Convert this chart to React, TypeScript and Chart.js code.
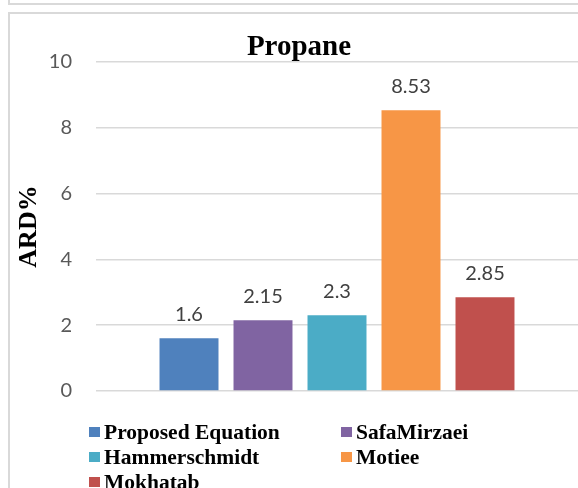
import React, { useEffect, useRef } from "react";
import { Chart, registerables } from "chart.js";

Chart.register(...registerables);

const chartTitle = "Propane";
const yAxisTitle = "ARD%";
const categories = [""];
const seriesNames = ["Proposed Equation", "SafaMirzaei", "Hammerschmidt", "Motiee", "Mokhatab"];
const seriesValues = [1.6, 2.15, 2.3, 8.53, 2.85];
const seriesColors = ["#4F81BD", "#8064A2", "#4BACC6", "#F79646", "#C0504D"];
const yMin = 0;
const yMax = 10;
const yStep = 2;

const SERIF = "'Liberation Serif', 'Times New Roman', serif";
const SANS = "Lato, 'Open Sans', sans-serif";

const framePlugin = {
  id: "frame",
  beforeDraw(chart: any) {
    const ctx = chart.ctx;
    ctx.save();
    ctx.fillStyle = "#FFFFFF";
    ctx.fillRect(0, 0, chart.width, chart.height);
    ctx.strokeStyle = "#D9D9D9";
    ctx.lineWidth = 2;
    ctx.beginPath();
    ctx.moveTo(9, 0);
    ctx.lineTo(9, 4);
    ctx.lineTo(chart.width, 4);
    ctx.moveTo(9, chart.height);
    ctx.lineTo(9, 13);
    ctx.lineTo(chart.width, 13);
    ctx.stroke();
    ctx.restore();
  },
};

const overlayPlugin = {
  id: "overlay",
  afterDatasetsDraw(chart: any) {
    const ctx = chart.ctx;
    ctx.save();
    ctx.fillStyle = "#000000";
    ctx.font = `bold 29px ${SERIF}`;
    ctx.textAlign = "center";
    ctx.textBaseline = "alphabetic";
    ctx.fillText(chartTitle, 299, 55);

    ctx.font = `20px ${SANS}`;
    ctx.fillStyle = "#404040";
    chart.data.datasets.forEach((ds: any, i: number) => {
      const meta = chart.getDatasetMeta(i);
      meta.data.forEach((el: any, j: number) => {
        const v = ds.data[j];
        ctx.fillText(String(v), el.x, el.y - 17);
      });
    });

    const colX = [89, 341];
    const rowY0 = 432;
    const rowH = 25;
    ctx.font = `bold 21.5px ${SERIF}`;
    ctx.textAlign = "left";
    ctx.textBaseline = "middle";
    chart.data.datasets.forEach((ds: any, i: number) => {
      const col = i % 2;
      const row = Math.floor(i / 2);
      const x = colX[col];
      const y = rowY0 + row * rowH;
      ctx.fillStyle = ds.backgroundColor;
      ctx.fillRect(x, y - 5, 11, 10);
      ctx.fillStyle = "#000000";
      ctx.fillText(ds.label, x + 15, y + 1);
    });
    ctx.restore();
  },
};

export default function App() {
  const canvasRef = useRef<HTMLCanvasElement | null>(null);

  useEffect(() => {
    if (!canvasRef.current) return;
    const chart = new Chart(canvasRef.current, {
      type: "bar",
      data: {
        labels: categories,
        datasets: seriesNames.map((name, i) => ({
          label: name,
          data: [seriesValues[i]],
          backgroundColor: seriesColors[i],
          borderWidth: 0,
          categoryPercentage: 0.7676,
          barPercentage: 0.797,
        })),
      },
      options: {
        animation: false,
        responsive: false,
        maintainAspectRatio: false,
        devicePixelRatio: 1,
        layout: { padding: { left: 0, right: 0, top: 62, bottom: 97 } },
        plugins: {
          legend: { display: false },
          title: { display: false },
          tooltip: { enabled: false },
        },
        scales: {
          x: { display: false },
          y: {
            min: yMin,
            max: yMax,
            ticks: {
              stepSize: yStep,
              padding: 24,
              color: "#595959",
              font: { family: SANS, size: 20 },
            },
            grid: { color: "#D9D9D9", lineWidth: 1.5, drawTicks: false },
            border: { display: false },
            title: {
              display: true,
              text: yAxisTitle,
              color: "#000000",
              font: { family: SERIF, size: 26, weight: "bold" },
              padding: { top: 14, bottom: 0 },
            },
            afterFit(scale: any) {
              scale.width = 96;
            },
          },
        },
      },
      plugins: [framePlugin, overlayPlugin],
    });
    return () => chart.destroy();
  }, []);

  return (
    <div style={{ position: "fixed", left: 0, top: 0, width: 578, height: 488, background: "#fff" }}>
      <canvas ref={canvasRef} width={578} height={488} style={{ width: 578, height: 488, display: "block" }} />
    </div>
  );
}
